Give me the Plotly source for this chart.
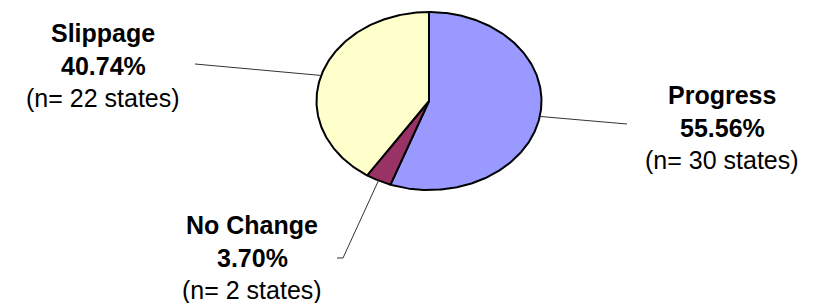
import numpy as np
import plotly.graph_objects as go

categories = ["Progress", "No Change", "Slippage"]
counts = [30, 2, 22]
colors = ["#9999FF", "#993366", "#FFFFCC"]

# layout constants (pixel-like coordinates, y downward)
W, H = 814, 303
cx, cy, rx, ry = 429, 101, 112.5, 89
label_pos = {  # centre of the text block lines (x, first line y)
    "Progress": (722, 95),
    "No Change": (252, 225),
    "Slippage": (103, 33),
}
leader_end = {
    "Progress": [(627, 124)],
    "No Change": [(343, 258), (337, 258)],
    "Slippage": [(195, 64)],
}
line_gap = 32.5

total = sum(counts)
shares = [c / total for c in counts]

fig = go.Figure()

def pt(a, r=1.0):
    return cx + rx * r * np.sin(a), cy - ry * r * np.cos(a)

start = 0.0
mids = []
for cat, s, col in zip(categories, shares, colors):
    a0 = start
    a1 = start + s * 2 * np.pi
    angs = np.linspace(a0, a1, max(int(s * 400), 8))
    xs = [cx] + [pt(a)[0] for a in angs] + [cx]
    ys = [cy] + [pt(a)[1] for a in angs] + [cy]
    fig.add_trace(go.Scatter(x=xs, y=ys, mode="lines", fill="toself",
                             fillcolor=col, line=dict(color="black", width=2),
                             hoverinfo="skip", showlegend=False))
    mids.append((a0 + a1) / 2)
    start = a1

# leader lines and labels
for cat, c, s, m in zip(categories, counts, shares, mids):
    x0, y0 = pt(m)
    pts = [(x0, y0)] + leader_end[cat]
    fig.add_trace(go.Scatter(x=[p[0] for p in pts], y=[p[1] for p in pts],
                             mode="lines", line=dict(color="#333333", width=1),
                             hoverinfo="skip", showlegend=False))
    lx, ly = label_pos[cat]
    lines = [f"<b>{cat}</b>", f"<b>{s*100:.2f}%</b>", f"(n= {c} states)"]
    for i, t in enumerate(lines):
        fig.add_annotation(x=lx, y=ly + i * line_gap, text=t, showarrow=False,
                           xanchor="center", yanchor="middle",
                           font=dict(family="Arial, Liberation Sans", size=25, color="black"))

fig.update_layout(
    width=W, height=H, autosize=False, margin=dict(l=0, r=0, t=0, b=0),
    paper_bgcolor="white", plot_bgcolor="white",
    xaxis=dict(range=[0, W], visible=False, fixedrange=True),
    yaxis=dict(range=[H, 0], visible=False, fixedrange=True),
    showlegend=False,
)
fig.write_html("out.html", config={"displayModeBar": False},
               post_script="document.body.style.margin='0';document.body.style.overflow='hidden';")
